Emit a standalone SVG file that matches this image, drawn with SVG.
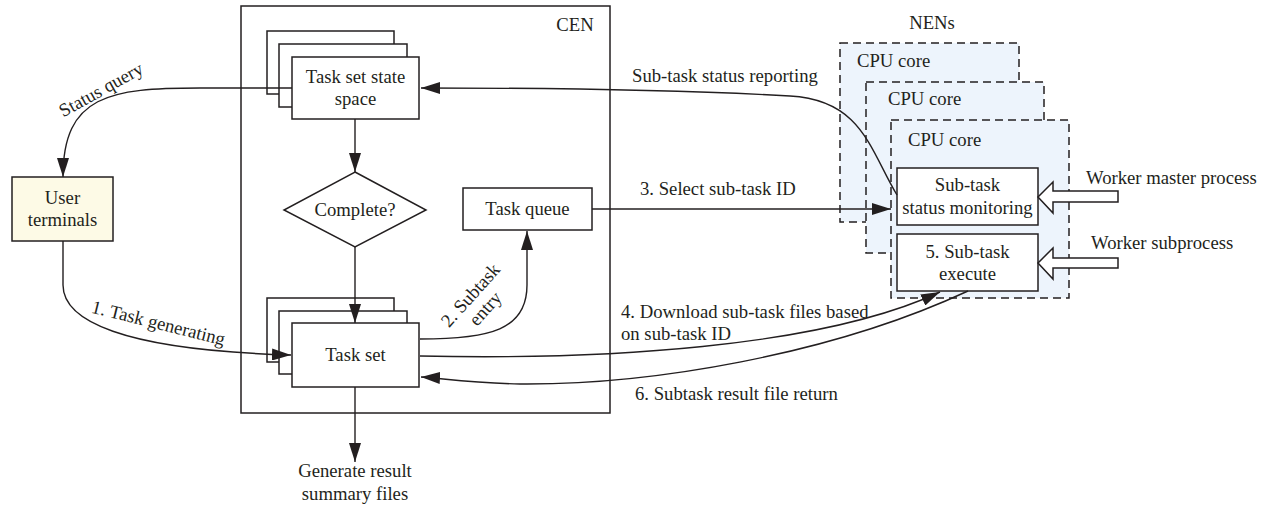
<svg xmlns="http://www.w3.org/2000/svg" width="1270" height="506" viewBox="0 0 1270 506">
  <defs>
    <marker id="arrow" viewBox="0 0 19 12" markerUnits="userSpaceOnUse" markerWidth="19" markerHeight="12" refX="19" refY="6" orient="auto">
      <path d="M0,0 L19,6 L0,12 z" fill="#231f20"/>
    </marker>
    <style>
      text { font-family: "Liberation Serif", "Times New Roman", serif; font-size: 18.7px; fill: #231f20; }
      .mid { text-anchor: middle; }
      .box { fill: #ffffff; stroke: #231f20; stroke-width: 1.5; }
      .frame { fill: none; stroke: #231f20; stroke-width: 1.5; }
      .core { fill: #edf4fc; stroke: #231f20; stroke-width: 1.5; stroke-dasharray: 8 5; }
      .user { fill: #fdfae6; stroke: #231f20; stroke-width: 1.5; }
      .link { fill: none; stroke: #231f20; stroke-width: 1.4; marker-end: url(#arrow); }
      .hollow { fill: #ffffff; stroke: #231f20; stroke-width: 1.5; }
    </style>
  </defs>

  <!-- central execution node frame -->
  <g id="cen">
    <rect class="frame" x="241" y="6" width="369" height="407"/>
    <text x="575" y="31" class="mid">CEN</text>
  </g>

  <!-- NEN label and stacked CPU cores -->
  <g id="nens">
    <text x="932" y="29" class="mid">NENs</text>
  </g>
  <g id="cpu-core-1">
    <rect class="core" x="840" y="43" width="179" height="179"/>
    <text x="857" y="67">CPU core</text>
  </g>
  <g id="cpu-core-2">
    <rect class="core" x="866" y="82" width="178" height="171"/>
    <text x="888" y="105">CPU core</text>
  </g>
  <g id="cpu-core-3">
    <rect class="core" x="891" y="120" width="178" height="178"/>
    <text x="908" y="146">CPU core</text>
  </g>

  <g id="state-space">
    <rect class="box" x="267" y="31" width="127" height="63"/>
    <rect class="box" x="279" y="44" width="128" height="63"/>
    <rect class="box" x="292" y="57" width="127" height="62"/>
    <text x="355.5" y="83" class="mid">Task set state</text>
    <text x="355.5" y="105" class="mid">space</text>
  </g>

  <g id="complete">
    <polygon class="box" points="355,172 426,210 355,247 284,210"/>
    <text x="355" y="216" class="mid">Complete?</text>
  </g>

  <g id="task-queue">
    <rect class="box" x="463" y="188" width="129" height="42"/>
    <text x="527.5" y="215" class="mid">Task queue</text>
  </g>

  <g id="task-set">
    <rect class="box" x="267" y="298" width="127" height="64"/>
    <rect class="box" x="279" y="311" width="128" height="63"/>
    <rect class="box" x="292" y="323" width="127" height="64"/>
    <text x="355.5" y="361" class="mid">Task set</text>
  </g>

  <g id="user-terminals">
    <rect class="user" x="12" y="177" width="101" height="64"/>
    <text x="62.5" y="204" class="mid">User</text>
    <text x="62.5" y="226" class="mid">terminals</text>
  </g>

  <g id="status-monitoring">
    <rect class="box" x="897" y="168" width="141" height="57"/>
    <text x="967.5" y="191" class="mid">Sub-task</text>
    <text x="967.5" y="214" class="mid">status monitoring</text>
  </g>

  <g id="subtask-execute">
    <rect class="box" x="897" y="234" width="141" height="57"/>
    <text x="967.5" y="258" class="mid">5. Sub-task</text>
    <text x="967.5" y="280" class="mid">execute</text>
  </g>

  <g id="worker-master">
    <polygon class="hollow" points="1038,197 1053,182 1053,191 1118,191 1118,202 1053,202 1053,213"/>
    <text x="1086" y="184">Worker master process</text>
  </g>

  <g id="worker-sub">
    <polygon class="hollow" points="1038,263 1053,248 1053,258 1118,258 1118,268 1053,268 1053,279"/>
    <text x="1091" y="249">Worker subprocess</text>
  </g>

  <g id="result-summary">
    <text x="355" y="477" class="mid">Generate result</text>
    <text x="355" y="500" class="mid">summary files</text>
  </g>

  <!-- connectors -->
  <g id="connectors">
    <path class="link" d="M355,119 L355,172"/>
    <path class="link" d="M355,247 L355,323"/>
    <path class="link" d="M355,387 L355,462"/>
    <path class="link" d="M292,88 L200,88 C110,88 63,95 63,177"/>
    <path class="link" d="M63,241 L63,285 C63,320 120,350 291,355"/>
    <path class="link" d="M420,339 C490,339 527,330 527,285 L527,231"/>
    <path class="link" d="M592,209 L891,209"/>
    <path class="link" d="M897,195 C870,150 862,100 790,96 C700,91 560,88 421,88"/>
    <path class="link" d="M420,356 C600,360 820,348 940,292"/>
    <path class="link" d="M968,291 C830,355 650,385 520,384 C470,383 440,378 421,377"/>
  </g>

  <!-- connector labels -->
  <g id="labels">
    <text transform="translate(104,95) rotate(-29)" class="mid">Status query</text>
    <text transform="translate(157,329) rotate(14)" class="mid">1. Task generating</text>
    <text transform="translate(478,302) rotate(-48)" class="mid"><tspan x="0" y="-4">2. Subtask</tspan><tspan x="0" y="16">entry</tspan></text>
    <text x="632" y="82">Sub-task status reporting</text>
    <text x="640" y="195">3. Select sub-task ID</text>
    <text x="621" y="318">4. Download sub-task files based</text>
    <text x="621" y="340">on sub-task ID</text>
    <text x="635" y="400">6. Subtask result file return</text>
  </g>
</svg>
